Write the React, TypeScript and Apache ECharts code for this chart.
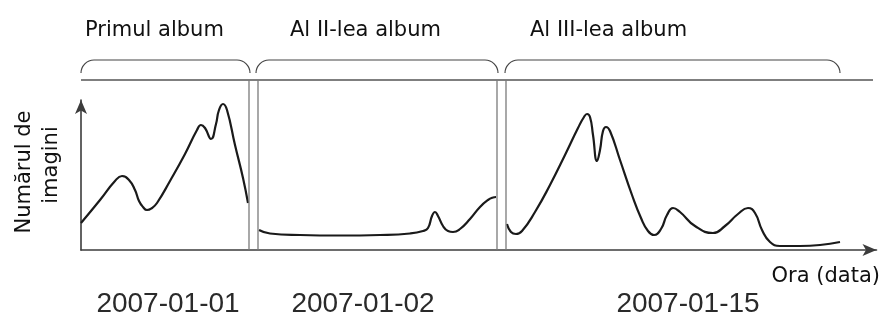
import React, { useEffect, useRef } from "react";
import * as echarts from "echarts";

// Data (x: time units along the axis, y: number of images)
const album1: [number, number][] = [
  [0, 27], [19, 50], [34, 69], [41, 74], [48, 70], [54, 60], [58, 49], [62, 43], [66, 40], [71, 42],
  [76, 47], [89, 69], [104, 96], [116, 120], [120, 125], [124, 122], [130, 111], [135, 126],
  [138, 140], [142, 146], [146, 140], [154, 105], [162, 72], [167, 47],
];
const album2: [number, number][] = [
  [178, 20], [189, 16.5], [219, 15], [259, 14.5], [299, 15], [329, 16.5], [342, 19], [347, 22],
  [351, 34], [354, 38], [357, 34], [362, 24], [367, 19], [372, 18], [379, 21], [389, 31],
  [399, 43], [407, 50], [412, 52.5], [415, 53],
];
const album3: [number, number][] = [
  [426, 26], [430, 18], [435, 16], [441, 19], [454, 38], [469, 65], [484, 95], [497, 122],
  [503, 133], [506, 136], [509, 133], [512, 115], [516, 89], [519, 100], [522, 119], [525, 123],
  [529, 119], [539, 90], [551, 55], [560, 32], [567, 19], [573, 15], [580, 21], [586, 35],
  [592, 42], [599, 38], [614, 24], [632, 17], [644, 24], [657, 36], [667, 42], [674, 37],
  [681, 20], [689, 8], [699, 4], [719, 4], [739, 5], [759, 8],
];
const albumLabels = ["Primul album", "Al II-lea album", "Al III-lea album"];
const dateLabels = ["2007-01-01", "2007-01-02", "2007-01-15"];
// segment extents for braces (x units)
const braceRanges: [number, number][] = [[0, 169], [175, 417], [424, 759]];
// separators (double lines) between albums (x units)
const separators: [number, number][] = [[168, 177], [416, 425]];
const X_MAX = 795.5;
const Y_MAX = 150;
const TOP_RULE_VALUE = 170; // y value of the rule above the plot
const TOP_RULE_END = 792;

const LABEL_FONT = "DejaVu Sans";

export default function App() {
  const ref = useRef<HTMLDivElement>(null);
  useEffect(() => {
    if (!ref.current) return;
    const chart = echarts.init(ref.current, null, { renderer: "svg" });
    const axisLine = (size: number[]) => ({
      show: true,
      symbol: ["none", "arrow"],
      symbolSize: size,
      lineStyle: { color: "#3c3c3c", width: 1.6 },
    });
    const lineSeries = (name: string, data: [number, number][]) => ({
      name,
      type: "line",
      data,
      smooth: 0.5,
      showSymbol: false,
      symbol: "none",
      lineStyle: { color: "#1a1a1a", width: 2.2 },
      z: 5,
    });
    chart.setOption({
      animation: false,
      grid: { left: 81, top: 100, right: 8.5, bottom: 77 },
      xAxis: {
        type: "value",
        min: 0,
        max: X_MAX,
        axisLine: axisLine([9, 14]),
        axisTick: { show: false },
        axisLabel: { show: false },
        splitLine: { show: false },
      },
      yAxis: {
        type: "value",
        min: 0,
        max: Y_MAX,
        axisLine: axisLine([9, 14]),
        axisTick: { show: false },
        axisLabel: { show: false },
        splitLine: { show: false },
      },
      series: [
        lineSeries(albumLabels[0], album1),
        lineSeries(albumLabels[1], album2),
        lineSeries(albumLabels[2], album3),
      ],
    });

    const px = (x: number, y: number) => chart.convertToPixel({ gridIndex: 0 }, [x, y]) as number[];
    const [x0, yTop] = px(0, TOP_RULE_VALUE);
    const [xEnd] = px(TOP_RULE_END, 0);
    const yBase = px(0, 0)[1];
    const graphics: any[] = [];
    graphics.push({
      type: "line",
      shape: { x1: x0, y1: yTop, x2: xEnd, y2: yTop },
      style: { stroke: "#555", lineWidth: 1.3 },
      z: 10,
    });
    separators.forEach(([a, b]) => {
      [a, b].forEach((v) => {
        const xp = px(v, 0)[0];
        graphics.push({
          type: "line",
          shape: { x1: xp, y1: yTop, x2: xp, y2: yBase },
          style: { stroke: "#7a7a7a", lineWidth: 1.3 },
          z: 10,
        });
      });
    });
    const braceTop = yTop - 20;
    const braceEnd = yTop - 7;
    const rx = 13;
    const ry = braceEnd - braceTop;
    const k = 0.55;
    braceRanges.forEach(([a, b]) => {
      const xa = px(a, 0)[0];
      const xb = px(b, 0)[0];
      const stroke = { stroke: "#444", lineWidth: 1.2, fill: "none" };
      graphics.push({
        type: "bezierCurve",
        shape: { x1: xa, y1: braceEnd, cpx1: xa, cpy1: braceEnd - ry * k, cpx2: xa + rx * (1 - k), cpy2: braceTop, x2: xa + rx, y2: braceTop },
        style: stroke,
      });
      graphics.push({
        type: "line",
        shape: { x1: xa + rx, y1: braceTop, x2: xb - rx, y2: braceTop },
        style: stroke,
      });
      graphics.push({
        type: "bezierCurve",
        shape: { x1: xb - rx, y1: braceTop, cpx1: xb - rx * (1 - k), cpy1: braceTop, cpx2: xb, cpy2: braceEnd - ry * k, x2: xb, y2: braceEnd },
        style: stroke,
      });
    });
    const albumLabelX = [85, 290, 530];
    albumLabels.forEach((t, i) => {
      graphics.push({
        type: "text",
        x: albumLabelX[i],
        y: 29,
        style: { text: t, font: `21px "${LABEL_FONT}"`, fill: "#111", align: "left", verticalAlign: "middle" },
      });
    });
    const dateX = [168, 363, 688];
    dateLabels.forEach((t, i) => {
      graphics.push({
        type: "text",
        x: dateX[i],
        y: 302,
        style: { text: t, font: `28px "Liberation Sans"`, fill: "#2a2a2a", align: "center", verticalAlign: "middle" },
      });
    });
    graphics.push({
      type: "text",
      x: 880,
      y: 275,
      style: { text: "Ora (data)", font: `21px "${LABEL_FONT}"`, fill: "#111", align: "right", verticalAlign: "middle" },
    });
    graphics.push({
      type: "text",
      x: 23,
      y: 172,
      rotation: Math.PI / 2,
      style: { text: "Numărul de", font: `21px "${LABEL_FONT}"`, fill: "#111", align: "center", verticalAlign: "middle" },
    });
    graphics.push({
      type: "text",
      x: 50,
      y: 165,
      rotation: Math.PI / 2,
      style: { text: "imagini", font: `21px "${LABEL_FONT}"`, fill: "#111", align: "center", verticalAlign: "middle" },
    });
    chart.setOption({ graphic: graphics });
    return () => chart.dispose();
  }, []);
  return <div ref={ref} style={{ position: "fixed", left: 0, top: 0, width: 885, height: 327 }} />;
}
